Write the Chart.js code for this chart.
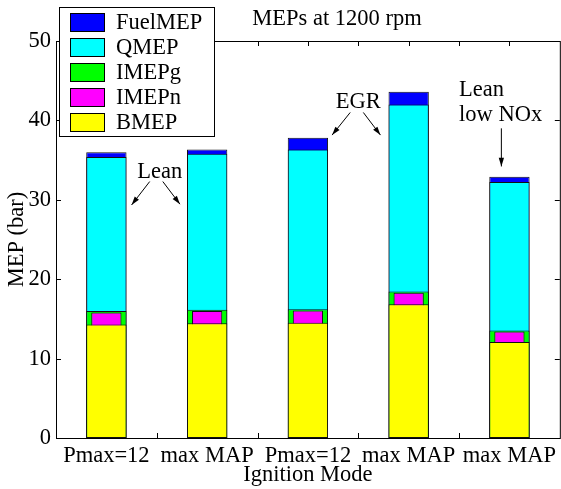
<!DOCTYPE html>
<html>
<head>
<meta charset="utf-8">
<script src="https://cdn.jsdelivr.net/npm/chart.js@4"></script>
<style>
  body { margin: 0; background: #fff; }
</style>
</head>
<body>
<canvas id="mepChart" width="561" height="489"></canvas>
<script>
// ignition modes along x
const categories = ['Pmax=12', 'max MAP', 'Pmax=12', 'max MAP', 'max MAP'];
// bar heights (bar), bars overlap from zero
const fuelMEP = [36.0, 36.35, 37.8, 43.6, 32.9];
const qMEP = [35.4, 35.8, 36.35, 42.0, 32.25];
const imepG = [16.0, 16.15, 16.2, 18.45, 13.55];
const imepN = [15.8, 16.0, 16.05, 18.3, 13.4];
const bMEP = [14.3, 14.45, 14.5, 16.85, 12.1];
const yTicks = [0, 10, 20, 30, 40, 50];

const FONT = '"Liberation Serif", "Times New Roman", serif';
const FS = 22.5;
Chart.defaults.font.family = FONT;
Chart.defaults.color = '#000';

// notes in data units: x in category steps, y in bar
const notes = [
  { text: 'Lean', x: 0.53, y: 33.55, align: 'center' },
  { text: 'EGR', x: 2.5, y: 42.35, align: 'center' },
  { text: 'Lean', x: 3.5, y: 43.8, align: 'left' },
  { text: 'low NOx', x: 3.5, y: 40.65, align: 'left' }
];
const arrows = [
  [0.43, 32.3, 0.25, 29.35],
  [0.56, 32.3, 0.73, 29.45],
  [2.42, 41.0, 2.24, 38.15],
  [2.55, 41.0, 2.72, 38.15],
  [3.92, 39.0, 3.92, 34.2]
];

const legendItems = [
  ['FuelMEP', '#0000ff'],
  ['QMEP', '#00ffff'],
  ['IMEPg', '#00ff00'],
  ['IMEPn', '#ff00ff'],
  ['BMEP', '#ffff00']
];

function bar(label, data, color, order, pct) {
  return {
    label, data, order,
    backgroundColor: color,
    borderColor: '#111',
    borderWidth: 1,
    borderSkipped: false,
    categoryPercentage: 1,
    barPercentage: pct
  };
}

// box with inward ticks, drawn under the bars
const frame = {
  id: 'frame',
  beforeDatasetsDraw(chart) {
    const { ctx, chartArea: a, scales: { x, y } } = chart;
    const step = x.getPixelForValue(1) - x.getPixelForValue(0);
    ctx.save();
    ctx.strokeStyle = '#000';
    ctx.lineWidth = 1;
    ctx.strokeRect(Math.round(a.left) + 0.5, Math.round(a.top) + 0.5,
      a.right - a.left, a.bottom - a.top);
    ctx.beginPath();
    for (let i = 0; i < categories.length * 2 - 1; i++) {
      const px = Math.round(x.getPixelForValue(0) + i * step / 2) + 0.5;
      ctx.moveTo(px, a.bottom); ctx.lineTo(px, a.bottom - 5);
      ctx.moveTo(px, a.top); ctx.lineTo(px, a.top + 5);
    }
    yTicks.forEach(v => {
      const py = Math.round(y.getPixelForValue(v)) + 0.5;
      ctx.moveTo(a.left, py); ctx.lineTo(a.left + 5, py);
      ctx.moveTo(a.right, py); ctx.lineTo(a.right - 5, py);
    });
    ctx.stroke();
    ctx.restore();
  },
  afterDraw(chart) {
    const { ctx, chartArea: a, scales: { x, y } } = chart;
    const step = x.getPixelForValue(1) - x.getPixelForValue(0);
    const xp = v => x.getPixelForValue(0) + v * step;
    ctx.save();
    ctx.fillStyle = '#000';
    ctx.strokeStyle = '#000';
    ctx.font = FS + 'px ' + FONT;

    // title
    ctx.textAlign = 'center';
    ctx.textBaseline = 'alphabetic';
    ctx.fillText('MEPs at 1200 rpm', 337, 25);

    // annotations
    ctx.textBaseline = 'middle';
    notes.forEach(n => {
      ctx.textAlign = n.align;
      ctx.fillText(n.text, xp(n.x), y.getPixelForValue(n.y));
    });
    ctx.lineWidth = 1;
    arrows.forEach(([x0, y0, x1, y1]) => {
      const ax = xp(x0), ay = y.getPixelForValue(y0);
      const bx = xp(x1), by = y.getPixelForValue(y1);
      const ang = Math.atan2(by - ay, bx - ax);
      ctx.beginPath();
      ctx.moveTo(ax, ay); ctx.lineTo(bx, by);
      ctx.stroke();
      ctx.beginPath();
      ctx.moveTo(bx, by);
      ctx.lineTo(bx - 9 * Math.cos(ang - 0.3), by - 9 * Math.sin(ang - 0.3));
      ctx.lineTo(bx - 9 * Math.cos(ang + 0.3), by - 9 * Math.sin(ang + 0.3));
      ctx.closePath();
      ctx.fill();
    });

    // legend box
    const lx = a.left + 3, ly = 7, lw = 155, lh = 129;
    ctx.fillStyle = '#fff';
    ctx.fillRect(lx, ly, lw, lh);
    ctx.strokeRect(lx + 0.5, ly + 0.5, lw, lh);
    ctx.textAlign = 'left';
    legendItems.forEach(([name, color], i) => {
      const cy = ly + 15 + i * 25;
      ctx.fillStyle = color;
      ctx.fillRect(lx + 11, cy - 9, 35, 19);
      ctx.strokeRect(lx + 11.5, cy - 8.5, 34, 18);
      ctx.fillStyle = '#000';
      ctx.fillText(name, lx + 57, cy + 1);
    });
    ctx.restore();
  }
};

new Chart(document.getElementById('mepChart'), {
  type: 'bar',
  data: {
    labels: categories,
    datasets: [
      bar('FuelMEP', fuelMEP, '#0000ff', 5, 0.4),
      bar('QMEP', qMEP, '#00ffff', 4, 0.4),
      bar('IMEPg', imepG, '#00ff00', 3, 0.4),
      bar('IMEPn', imepN, '#ff00ff', 2, 0.3),
      bar('BMEP', bMEP, '#ffff00', 1, 0.4)
    ]
  },
  options: {
    responsive: false,
    animation: false,
    layout: { padding: { top: 41, right: 0, left: 0, bottom: 0 } },
    plugins: {
      legend: { display: false },
      tooltip: { enabled: false }
    },
    scales: {
      x: {
        stacked: true,
        grid: { display: false, drawTicks: false },
        border: { display: false },
        ticks: { font: { size: FS }, padding: 5, maxRotation: 0, autoSkip: false },
        title: { display: true, text: 'Ignition Mode', font: { size: FS }, padding: { top: 0, bottom: 0 } },
        afterFit(scale) { scale.height = 51; }
      },
      y: {
        stacked: false,
        min: 0,
        max: 50,
        grid: { display: false, drawTicks: false },
        border: { display: false },
        ticks: { stepSize: 10, font: { size: FS }, padding: 5 },
        title: { display: true, text: 'MEP (bar)', font: { size: FS }, padding: { top: 4, bottom: 0 } },
        afterFit(scale) { scale.width = 56; }
      }
    }
  },
  plugins: [frame]
});
</script>
</body>
</html>
